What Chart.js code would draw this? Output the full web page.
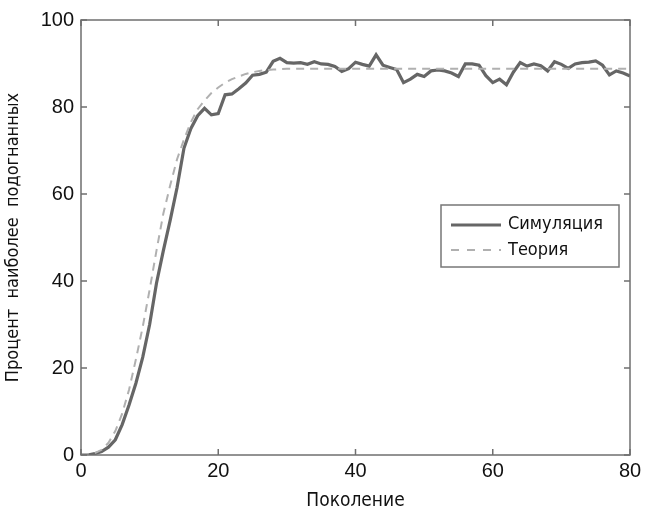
<html>
<head>
<script src="https://cdn.jsdelivr.net/npm/chart.js@4.4.1/dist/chart.umd.min.js"></script>
<style>
  body { margin: 0; background: #fff; }
  #wrap { width: 646px; height: 514px; }
</style>
</head>
<body>
<div id="wrap"><canvas id="c" width="646" height="514"></canvas></div>
<script>
// generation number 0..80
var generations = [0,1,2,3,4,5,6,7,8,9,10,11,12,13,14,15,16,17,18,19,20,
  21,22,23,24,25,26,27,28,29,30,31,32,33,34,35,36,37,38,39,40,
  41,42,43,44,45,46,47,48,49,50,51,52,53,54,55,56,57,58,59,60,
  61,62,63,64,65,66,67,68,69,70,71,72,73,74,75,76,77,78,79,80];

var simulation = [0,0,0.3,0.8,1.8,3.5,7,11.5,16.5,22.5,30,
  39.5,47,54,61.5,70.5,75,78,79.7,78.2,78.5,
  82.8,83,84.2,85.5,87.3,87.5,88,90.5,91.2,90.2,
  90.1,90.2,89.8,90.4,89.9,89.8,89.3,88.2,88.8,90.3,
  89.8,89.4,92,89.6,89.1,88.6,85.6,86.4,87.5,87.0,
  88.3,88.5,88.3,87.8,87.0,89.9,89.9,89.6,87.2,85.6,
  86.4,85.1,88,90.2,89.4,89.9,89.5,88.3,90.4,89.8,
  88.9,89.9,90.2,90.3,90.6,89.6,87.4,88.3,87.8,87.1];

var theory = [0,0.1,0.4,1.2,2.8,5.5,9.5,15,22,29.5,38,
  47,55.5,62,68,72.5,76.5,79.5,81.5,83.2,84.5,
  85.6,86.4,87,87.6,88,88.3,88.5,88.6,88.7,88.8,
  88.8,88.8,88.8,88.8,88.8,88.8,88.8,88.8,88.8,88.8,
  88.8,88.8,88.8,88.8,88.8,88.8,88.8,88.8,88.8,88.8,
  88.8,88.8,88.8,88.8,88.8,88.8,88.8,88.8,88.8,88.8,
  88.8,88.8,88.8,88.8,88.8,88.8,88.8,88.8,88.8,88.8,
  88.8,88.8,88.8,88.8,88.8,88.8,88.8,88.8,88.8,88.8];

var xTicks = [0, 20, 40, 60, 80];
var yTicks = [0, 20, 40, 60, 80, 100];
var seriesNames = ['Симуляция', 'Теория'];

var titleFont = '"Liberation Sans Narrow", "DejaVu Sans Condensed", sans-serif';
var tickFont = '"Liberation Sans", Arial, sans-serif';

function pts(ys) {
  return generations.map(function(g, i) { return {x: g, y: ys[i]}; });
}

// box around the plot and inward ticks, matlab style
var framePlugin = {
  id: 'frame',
  afterDatasetsDraw: function(chart) {
    var ctx = chart.ctx, a = chart.chartArea;
    var xs = chart.scales.x, ys = chart.scales.y;
    ctx.save();
    ctx.strokeStyle = '#6f6f6f';
    ctx.lineWidth = 1.5;
    ctx.strokeRect(a.left, a.top, a.right - a.left, a.bottom - a.top);
    ctx.beginPath();
    xTicks.forEach(function(t) {
      var px = xs.getPixelForValue(t);
      ctx.moveTo(px, a.bottom); ctx.lineTo(px, a.bottom - 6);
      ctx.moveTo(px, a.top); ctx.lineTo(px, a.top + 6);
    });
    yTicks.forEach(function(t) {
      var py = ys.getPixelForValue(t);
      ctx.moveTo(a.left, py); ctx.lineTo(a.left + 6, py);
      ctx.moveTo(a.right, py); ctx.lineTo(a.right - 6, py);
    });
    ctx.stroke();

    // legend box
    var lx = 441, ly = 205, lw = 178, lh = 62;
    ctx.fillStyle = '#fff';
    ctx.fillRect(lx, ly, lw, lh);
    ctx.strokeStyle = '#777';
    ctx.lineWidth = 1.5;
    ctx.strokeRect(lx, ly, lw, lh);
    ctx.lineWidth = 3.2;
    ctx.strokeStyle = '#666';
    ctx.beginPath(); ctx.moveTo(lx + 10, ly + 20); ctx.lineTo(lx + 60, ly + 20); ctx.stroke();
    ctx.lineWidth = 2;
    ctx.strokeStyle = '#b0b0b0';
    ctx.setLineDash([8, 8]);
    ctx.beginPath(); ctx.moveTo(lx + 10, ly + 45); ctx.lineTo(lx + 60, ly + 45); ctx.stroke();
    ctx.setLineDash([]);
    ctx.fillStyle = '#111';
    ctx.font = '18px ' + titleFont;
    ctx.textBaseline = 'middle';
    ctx.fillText(seriesNames[0], lx + 67, ly + 19);
    ctx.fillText(seriesNames[1], lx + 67, ly + 45);
    ctx.restore();
  }
};

new Chart(document.getElementById('c'), {
  type: 'line',
  data: {
    datasets: [
      {
        label: seriesNames[1],
        data: pts(theory),
        borderColor: '#b0b0b0',
        borderWidth: 2,
        borderDash: [8, 6],
        pointRadius: 0,
        tension: 0
      },
      {
        label: seriesNames[0],
        data: pts(simulation),
        borderColor: '#666',
        borderWidth: 3.2,
        pointRadius: 0,
        tension: 0
      }
    ]
  },
  options: {
    responsive: false,
    animation: false,
    layout: { padding: { top: 20, right: 16, left: 0, bottom: 0 } },
    plugins: { legend: { display: false }, tooltip: { enabled: false } },
    scales: {
      x: {
        type: 'linear',
        min: 0, max: 80,
        afterBuildTicks: function(s) { s.ticks = xTicks.map(function(v) { return {value: v}; }); },
        afterFit: function(s) { s.height = 59; },
        grid: { display: false, drawTicks: false },
        border: { display: false },
        ticks: { color: '#111', font: { family: tickFont, size: 20 }, padding: 4, maxRotation: 0 },
        title: { display: true, text: 'Поколение', color: '#111',
          font: { family: titleFont, size: 19 }, padding: { top: 0, bottom: 2 } }
      },
      y: {
        min: 0, max: 100,
        afterBuildTicks: function(s) { s.ticks = yTicks.map(function(v) { return {value: v}; }); },
        afterFit: function(s) { s.width = 81; },
        grid: { display: false, drawTicks: false },
        border: { display: false },
        ticks: { color: '#111', font: { family: tickFont, size: 20 }, padding: 7 },
        title: { display: true, text: 'Процент  наиболее  подогнанных', color: '#111',
          font: { family: titleFont, size: 18 }, padding: { top: 3, bottom: 0 } }
      }
    }
  },
  plugins: [framePlugin]
});
</script>
</body>
</html>
